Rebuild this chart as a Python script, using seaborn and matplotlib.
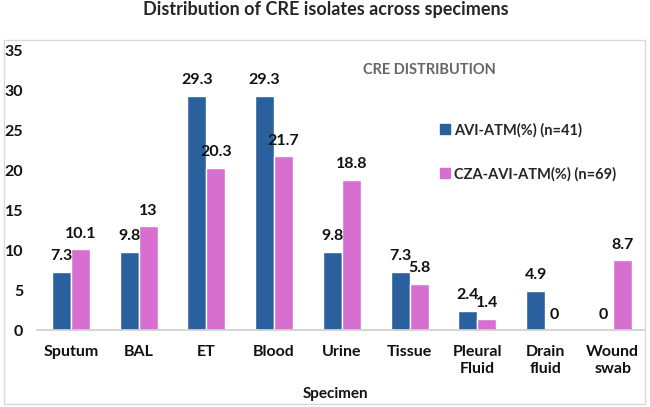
import matplotlib
matplotlib.use("Agg")
import matplotlib.pyplot as plt
import pandas as pd
import seaborn as sns
from matplotlib.patches import Rectangle

SPECIMENS = ["Sputum", "BAL", "ET", "Blood", "Urine", "Tissue",
             "Pleural\nFluid", "Drain\nfluid", "Wound\nswab"]
AVI_ATM = [7.3, 9.8, 29.3, 29.3, 9.8, 7.3, 2.4, 4.9, 0]
CZA_AVI_ATM = [10.1, 13, 20.3, 21.7, 18.8, 5.8, 1.4, 0, 8.7]
SERIES = ["AVI-ATM(%) (n=41)", "CZA-AVI-ATM(%) (n=69)"]
COLORS = ["#2A609E", "#D66FCF"]

df = pd.DataFrame({
    "specimen": SPECIMENS * 2,
    "value": AVI_ATM + CZA_AVI_ATM,
    "series": [SERIES[0]] * len(SPECIMENS) + [SERIES[1]] * len(SPECIMENS),
})

sns.set_theme(style="white")
plt.rcParams["font.family"] = ["Lato", "DejaVu Sans"]
plt.rcParams["font.weight"] = "bold"

W, H = 650, 407
fig = plt.figure(figsize=(W / 100, H / 100), dpi=100)
# plot area in pixels: x 37..644, y 50..330
ax = fig.add_axes([37 / W, 1 - 330 / H, 607 / W, 280 / H])

sns.barplot(data=df, x="specimen", y="value", hue="series",
            palette=dict(zip(SERIES, COLORS)), width=0.56, gap=0,
            saturation=1, order=SPECIMENS, hue_order=SERIES, ax=ax,
            legend=False)

for container in ax.containers:
    ax.bar_label(container, fmt="%g", padding=6, fontsize=11.5,
                 fontweight="bold", color="#111111")

ax.set_ylim(0, 35)
ax.set_yticks(range(0, 36, 5))
ax.set_xlim(-0.5, 8.46)
for side in ["top", "right", "left"]:
    ax.spines[side].set_visible(False)
ax.spines["bottom"].set_color("#d0d0d0")
ax.tick_params(axis="both", length=0)
ax.tick_params(axis="y", labelsize=11.5, pad=10)
ax.tick_params(axis="x", labelsize=11.5, pad=11)
for lab in ax.get_xticklabels() + ax.get_yticklabels():
    lab.set_fontweight("bold")
    lab.set_color("#111111")
for lab in ax.get_xticklabels():
    lab.set_linespacing(1.25)
ax.set_ylabel("")
ax.set_xlabel("")

fig.text(336 / W, 1 - 394 / H, "Specimen", ha="center", va="center",
         fontsize=11, fontweight="bold", color="#111111")

handles = [plt.Line2D([0], [0], marker="s", color="none",
                      markerfacecolor=c, markeredgecolor=c, markersize=6.5)
           for c in COLORS]
fig.legend(handles, SERIES, loc="upper left", bbox_to_anchor=(0.653, 0.730),
           frameon=False, labelspacing=2.0, handletextpad=0.1,
           handlelength=1.0, prop={"weight": "bold", "size": 10.5})

fig.text(363 / W, 1 - 70 / H, "CRE DISTRIBUTION", fontsize=10.5,
         fontweight="bold", color="#666666", va="center")
fig.text(326 / W, 1 - 10 / H, "Distribution of CRE isolates across specimens",
         ha="center", va="center", fontsize=13, fontweight="bold")

fig.patches.append(Rectangle((4 / W, 1 - 404 / H), 641 / W, 364 / H,
                             transform=fig.transFigure, fill=False,
                             edgecolor="#d9d9d9", linewidth=1))

fig.savefig("out.png", dpi=100)
